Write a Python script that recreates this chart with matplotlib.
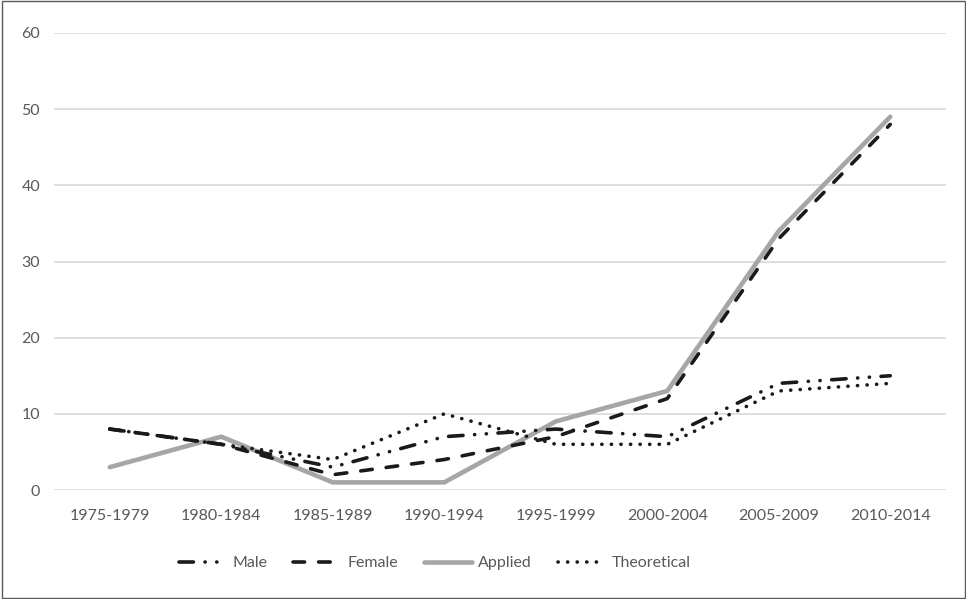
import matplotlib
matplotlib.use("Agg")
import matplotlib.pyplot as plt
from matplotlib.patches import Rectangle

periods = ["1975-1979", "1980-1984", "1985-1989", "1990-1994",
           "1995-1999", "2000-2004", "2005-2009", "2010-2014"]
male = [8, 6, 3, 7, 8, 7, 14, 15]
female = [8, 6, 2, 4, 7, 12, 33, 48]
applied = [3, 7, 1, 1, 9, 13, 34, 49]
theoretical = [8, 6, 4, 10, 6, 6, 13, 14]
yticks = [0, 10, 20, 30, 40, 50, 60]

plt.rcParams['font.family'] = ['Lato', 'DejaVu Sans']

fig = plt.figure(figsize=(9.66, 5.99), dpi=100)
ax = fig.add_axes([54/966, (599-490)/599, (946-54)/966, (490-33)/599])

x = list(range(len(periods)))
ax.plot(x, applied, color="#a6a6a6", lw=3.3, solid_capstyle="round", solid_joinstyle="miter",
        label="Applied", zorder=2)
ax.plot(x, female, color="#1a1a1a", lw=2.6, dashes=(3.2, 3.9), dash_capstyle="round",
        label="Female", zorder=3)
ax.plot(x, male, color="#1a1a1a", lw=2.6, dashes=(4.0, 3.2, 0.05, 3.2, 0.05, 3.2),
        dash_capstyle="round", label="Male", zorder=3)
ax.plot(x, theoretical, color="#1a1a1a", lw=2.6, dashes=(0.05, 2.6), dash_capstyle="round",
        label="Theoretical", zorder=3)

ax.set_xlim(-0.5, len(periods) - 0.5)
ax.set_ylim(0, 60)
ax.set_yticks(yticks)
ax.set_xticks(x)
ax.set_xticklabels(periods)
ax.grid(axis="y", color="#d9d9d9", lw=1.2)
ax.set_axisbelow(True)
for s in ax.spines.values():
    s.set_visible(False)
ax.tick_params(length=0, labelsize=11.5, labelcolor="#595959")
ax.tick_params(axis="y", pad=10)
ax.tick_params(axis="x", pad=14)

h = {l.get_label(): l for l in ax.get_lines()}
order = ["Male", "Female", "Applied", "Theoretical"]
leg = fig.legend([h[k] for k in order], order, loc="center", bbox_to_anchor=(0.45, (599-563)/599),
                 ncol=4, frameon=False, fontsize=11.5, handlelength=3.0, columnspacing=1.6,
                 handletextpad=0.4)
for t in leg.get_texts():
    t.set_color("#595959")

fig.patches.append(Rectangle((0.002, 0.001), 0.997, 0.998, transform=fig.transFigure,
                             fill=False, edgecolor="#5a5a5a", lw=1.0))

fig.savefig("out.png", dpi=100)
